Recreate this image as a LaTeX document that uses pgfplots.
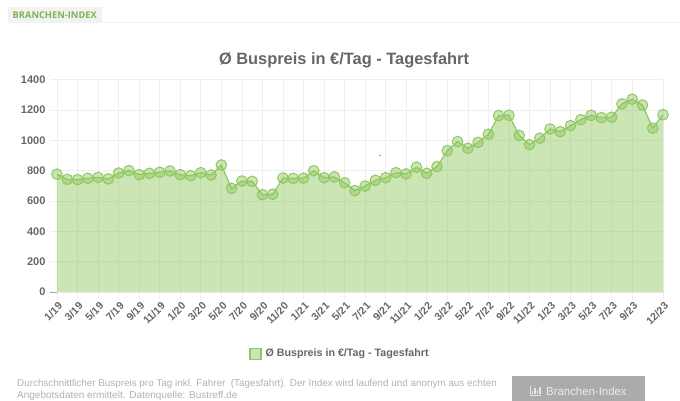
\documentclass[border=0pt]{standalone}
\usepackage{pgfplots}
\usepackage{fontspec}
\setmainfont{Liberation Sans}
\newfontfamily\hdfont{Open Sans}
\pgfplotsset{compat=1.18}
\definecolor{gr}{RGB}{140,200,90}
\definecolor{ln}{RGB}{145,198,100}
\definecolor{txt}{RGB}{102,102,102}
\definecolor{gridc}{RGB}{238,238,238}
\begin{document}
\begin{tikzpicture}
\useasboundingbox (0pt,0pt) rectangle (680pt,-401pt);
\fill[white] (0pt,0pt) rectangle (680pt,-401pt);
% header
\fill[black!5] (8pt,-7pt) rectangle (102pt,-23pt);
\draw[black!6,line width=1pt] (102pt,-22.5pt) -- (680pt,-22.5pt);
\node[anchor=west,inner sep=0pt,text=gr!90!black] at (12.5pt,-15.5pt) {\hdfont\fontsize{9.3pt}{10pt}\selectfont\bfseries BRANCHEN-INDEX};
% title
\node[inner sep=0pt,text=txt] at (344pt,-60pt) {\fontsize{16.4pt}{18pt}\selectfont\bfseries Ø Buspreis in €/Tag - Tagesfahrt};
\begin{axis}[
  at={(57pt,-292pt)},anchor=south west,
  scale only axis,width=606pt,height=212.5pt,
  xmin=0,xmax=59,ymin=0,ymax=1400,
  ytick={0,200,400,600,800,1000,1200,1400},
  xtick={0,2,4,6,8,10,12,14,16,18,20,22,24,26,28,30,32,34,36,38,40,42,44,46,48,50,52,54,56,59},
  xticklabels={1/19,3/19,5/19,7/19,9/19,11/19,1/20,3/20,5/20,7/20,9/20,11/20,1/21,3/21,5/21,7/21,9/21,11/21,1/22,3/22,5/22,7/22,9/22,11/22,1/23,3/23,5/23,7/23,9/23,12/23},
  grid=major,
  major grid style={gridc,line width=0.7pt},
  axis line style={draw=none},
  axis x line*=bottom,axis y line*=left,
  tick align=outside,
  major tick length=7pt,
  tick style={gridc,line width=0.7pt},
  /pgf/number format/assume math mode=true,
  /pgf/number format/1000 sep={},
  yticklabel style={font=\fontsize{11pt}{12pt}\selectfont\bfseries,text=txt,xshift=-1pt},
  xticklabel style={font=\fontsize{10.5pt}{12pt}\selectfont\bfseries,text=txt,rotate=45,anchor=north east,inner sep=0pt,xshift=-1pt,yshift=-2pt},
  legend style={at={(0.317,-0.259)},draw=none,fill=none,font=\fontsize{10.7pt}{12pt}\selectfont\bfseries,text=txt,anchor=north west,inner sep=0pt},
  clip=false,
  legend cell align=left,
]
\addplot[draw=none,fill=gr,fill opacity=0.45,forget plot] coordinates {
(0,776)(1,742)(2,740)(3,749)(4,755)(5,745)(6,784)(7,800)(8,773)(9,782)
(10,789)(11,797)(12,773)(13,766)(14,786)(15,771)(16,837)(17,683)(18,731)(19,729)
(20,641)(21,644)(22,751)(23,748)(24,750)(25,799)(26,753)(27,758)(28,720)(29,668)
(30,698)(31,736)(32,753)(33,786)(34,778)(35,822)(36,782)(37,826)(38,931)(39,991)
(40,947)(41,986)(42,1039)(43,1162)(44,1164)(45,1032)(46,971)(47,1013)(48,1074)(49,1056)
(50,1096)(51,1135)(52,1164)(53,1149)(54,1151)(55,1239)(56,1270)(57,1232)(58,1079)(59,1168)
} \closedcycle;
\addplot[ln,line width=1.2pt,mark=*,mark size=5.3pt,
  mark options={draw=ln,line width=1pt,fill=gr,fill opacity=0.45},
  legend image code/.code={\fill[gr,fill opacity=0.45] (0pt,-5.5pt) rectangle (11pt,5.5pt);\draw[ln,line width=0.8pt] (0pt,-5.5pt) rectangle (11pt,5.5pt);\path (13pt,0pt);}
] coordinates {
(0,776)(1,742)(2,740)(3,749)(4,755)(5,745)(6,784)(7,800)(8,773)(9,782)
(10,789)(11,797)(12,773)(13,766)(14,786)(15,771)(16,837)(17,683)(18,731)(19,729)
(20,641)(21,644)(22,751)(23,748)(24,750)(25,799)(26,753)(27,758)(28,720)(29,668)
(30,698)(31,736)(32,753)(33,786)(34,778)(35,822)(36,782)(37,826)(38,931)(39,991)
(40,947)(41,986)(42,1039)(43,1162)(44,1164)(45,1032)(46,971)(47,1013)(48,1074)(49,1056)
(50,1096)(51,1135)(52,1164)(53,1149)(54,1151)(55,1239)(56,1270)(57,1232)(58,1079)(59,1168)
};
\addlegendentry{Ø Buspreis in €/Tag - Tagesfahrt}
\end{axis}
\draw[black!35,line width=0.8pt] (50pt,-292pt) -- (57pt,-292pt);
\fill[black!45] (380pt,-155.5pt) circle (0.8pt);
% footer
\node[anchor=north west,inner sep=0pt,text=black!30,align=left] at (17pt,-379pt) {\fontsize{9.87pt}{13.6pt}\selectfont Durchschnittlicher Buspreis pro Tag inkl. Fahrer\ \ (Tagesfahrt). Der Index wird laufend und anonym aus echten\\Angebotsdaten ermittelt. Datenquelle: Bustreff.de};
% button
\fill[black!33] (512pt,-376pt) rectangle (645pt,-401pt);
\draw[white!90!black,line width=0.8pt] (530pt,-386pt) -- (530pt,-395pt) -- (541pt,-395pt);
\draw[white!90!black,line width=1.2pt] (532.5pt,-394pt) -- (532.5pt,-391pt) (535pt,-394pt) -- (535pt,-388pt) (537.5pt,-394pt) -- (537.5pt,-390pt) (540pt,-394pt) -- (540pt,-387pt);
\node[anchor=west,inner sep=0pt,text=white!92!black] at (546pt,-391pt) {\fontsize{11.4pt}{14pt}\selectfont Branchen-Index};
\end{tikzpicture}
\end{document}
